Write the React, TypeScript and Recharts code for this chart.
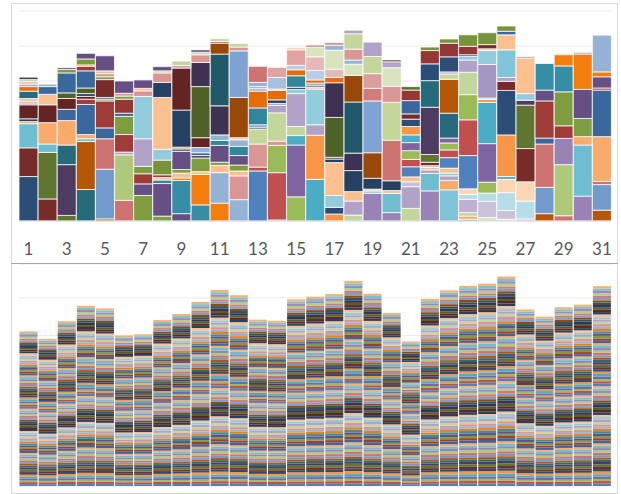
import React from 'react';
import { BarChart, Bar, XAxis, YAxis, CartesianGrid, Cell } from 'recharts';

// ---- categories ----
const days = Array.from({ length: 31 }, (_, i) => String(i + 1));
const axisTicks = [0, 10, 20, 30, 40, 50, 60];

// ---- top panel: segment values per day (bottom -> top) ----
const segmentValues: number[][] = [
  [12.7, 8.2, 6.9, 0.6, 0.8, 4.0, 0.5, 0.5, 0.8, 2.1, 1.3, 0.7, 0.7, 0.6, 0.7],
  [6.3, 13.3, 2.4, 6.1, 5.1, 3.0, 2.2, 0.7],
  [1.6, 14.5, 5.6, 7.0, 3.2, 3.1, 1.6, 5.7, 1.0, 0.5],
  [9.0, 13.7, 0.8, 1.2, 8.6, 1.5, 0.8, 0.8, 1.6, 4.9, 1.3, 0.4, 1.7, 1.6],
  [0.6, 14.2, 8.7, 3.1, 7.7, 0.5, 0.5, 5.1, 0.8, 0.9, 0.8, 4.3],
  [5.9, 13.0, 0.8, 5.0, 5.2, 0.9, 4.0, 0.9, 0.8, 3.5],
  [7.3, 3.3, 2.9, 2.1, 7.9, 12.1, 1.6, 0.7, 2.4],
  [1.4, 9.3, 1.0, 0.7, 0.8, 4.2, 3.1, 14.8, 4.3, 2.7, 0.6, 1.2],
  [2.1, 9.5, 0.7, 1.4, 1.0, 5.2, 0.7, 0.5, 10.6, 12.0, 0.7, 1.3],
  [4.6, 8.7, 0.8, 3.9, 0.7, 0.8, 1.5, 2.8, 14.6, 6.9, 2.2, 0.7, 0.7],
  [5.1, 8.7, 2.1, 0.9, 4.8, 1.4, 1.6, 8.3, 14.8, 3.1, 0.5, 0.8],
  [6.1, 6.8, 1.4, 1.7, 2.7, 2.6, 1.9, 0.6, 11.5, 13.3, 1.1, 1.0],
  [14.3, 1.1, 6.6, 4.3, 0.5, 0.7, 4.8, 4.8, 0.7, 0.6, 1.2, 4.6],
  [0.3, 13.5, 7.8, 1.2, 8.1, 2.1, 0.6, 1.0, 2.7, 0.4, 3.3, 2.9],
  [6.9, 14.8, 2.7, 2.6, 9.4, 1.2, 0.6, 3.3, 1.7, 1.3, 4.4, 0.7],
  [11.9, 12.6, 3.0, 10.2, 0.6, 0.5, 0.6, 0.9, 2.7, 3.9, 2.7, 0.7],
  [2.0, 1.9, 3.4, 9.4, 1.0, 0.5, 11.4, 9.9, 1.5, 2.4, 5.4, 1.4, 0.8],
  [1.7, 4.0, 2.7, 6.0, 5.0, 14.6, 7.6, 3.2, 1.2, 3.1, 4.4, 1.0],
  [7.9, 0.7, 0.5, 3.1, 7.3, 14.8, 3.6, 4.2, 4.9, 4.1],
  [2.4, 5.5, 0.8, 2.8, 11.6, 10.8, 4.6, 5.3, 1.7, 0.5],
  [3.6, 6.2, 1.4, 1.4, 2.9, 2.1, 2.5, 2.3, 2.2, 2.4, 2.1, 1.5, 3.8, 3.0, 1.0],
  [8.6, 5.0, 1.0, 0.7, 0.5, 1.0, 2.2, 13.5, 7.6, 4.8, 3.8, 1.0],
  [8.9, 2.7, 1.3, 0.8, 1.4, 3.0, 2.2, 2.0, 1.4, 7.1, 9.7, 1.5, 0.6, 4.3, 3.9, 1.2],
  [0.5, 0.9, 1.0, 3.8, 1.4, 1.6, 9.5, 10.2, 7.2, 6.4, 3.5, 1.0, 0.5, 2.4, 3.3],
  [1.0, 4.6, 2.4, 3.1, 11.0, 11.8, 0.8, 0.4, 9.6, 4.0, 0.5, 1.2, 3.4],
  [0.5, 2.5, 5.1, 3.8, 0.8, 11.9, 12.7, 2.6, 1.1, 7.9, 4.3, 1.0, 1.5],
  [0.6, 5.1, 5.5, 9.5, 12.4, 1.4, 1.9, 10.2, 0.3],
  [2.1, 7.5, 12.4, 1.7, 10.6, 3.1, 7.6],
  [1.5, 14.6, 7.5, 3.6, 9.7, 7.4, 3.2],
  [7.1, 14.6, 2.4, 5.2, 8.3, 10.1, 0.5],
  [3.1, 7.3, 0.9, 12.8, 13.3, 0.6, 3.2, 1.4, 10.5],
];

// ---- top panel: segment colours per day (bottom -> top) ----
const segmentColors: string[][] = [
  ['#2C4D75', '#772C2A', '#6FBDD1', '#F9AB6B', '#254061', '#632523', '#9983B5', '#D99694', '#FAC090', '#276A7C', '#E46C0A', '#95B3D7', '#E6B9B8', '#C3D69B', '#4D3B62'],
  ['#772C2A', '#5F7530', '#6FBDD1', '#F9AB6B', '#632523', '#FAC090', '#3A679C', '#95B3D7'],
  ['#5F7530', '#4D3B62', '#276A7C', '#F9AB6B', '#3A679C', '#632523', '#4F6228', '#3A679C', '#7E9D40', '#664F83'],
  ['#276A7C', '#B65708', '#6FBDD1', '#F9AB6B', '#3A679C', '#9F3B38', '#632523', '#254061', '#4F6228', '#3A679C', '#9F3B38', '#F47D0E', '#7E9D40', '#664F83'],
  ['#B65708', '#729ACA', '#CD7371', '#3A679C', '#9F3B38', '#7E9D40', '#3A679C', '#772C2A', '#7E9D40', '#D99694', '#FAC090', '#664F83'],
  ['#CD7371', '#AFC97A', '#B3A2C7', '#9F3B38', '#7E9D40', '#3A679C', '#953735', '#7E9D40', '#D99694', '#664F83'],
  ['#7E9D40', '#664F83', '#9F3B38', '#7E9D40', '#B3A2C7', '#93CDDD', '#D99694', '#FAC090', '#664F83'],
  ['#7E9D40', '#664F83', '#31859C', '#FAC090', '#9F3B38', '#76923C', '#93CDDD', '#FAC090', '#254061', '#D99694', '#C3D69B', '#664F83'],
  ['#664F83', '#358EA6', '#F47D0E', '#FAC090', '#7E9D40', '#664F83', '#3A679C', '#F47D0E', '#254061', '#632523', '#D99694', '#C3D69B'],
  ['#358EA6', '#F47D0E', '#FAC090', '#7E9D40', '#4D3B62', '#3A679C', '#95B3D7', '#632523', '#4F6228', '#3F3151', '#D99694', '#C3D69B', '#664F83'],
  ['#F47D0E', '#95B3D7', '#FAC090', '#7E9D40', '#664F83', '#31859C', '#95B3D7', '#3F3151', '#215968', '#984807', '#C0504D', '#C3D69B'],
  ['#95B3D7', '#D99694', '#FAC090', '#7E9D40', '#664F83', '#31859C', '#95B3D7', '#FAC090', '#984807', '#7FA2D1', '#D99694', '#C3D69B'],
  ['#4F81BD', '#C0504D', '#D99694', '#C3D69B', '#254061', '#729ACA', '#31859C', '#E46C0A', '#95B3D7', '#B3A2C7', '#95B3D7', '#CD7371'],
  ['#4F81BD', '#C0504D', '#9BBB59', '#D99694', '#C3D69B', '#B3A2C7', '#95B3D7', '#254061', '#E46C0A', '#FAC090', '#A9C0DE', '#E0A3A1'],
  ['#9BBB59', '#8064A2', '#4BACC6', '#C3D69B', '#B3A2C7', '#93CDDD', '#254061', '#31859C', '#E46C0A', '#B9CDE5', '#E0A3A1', '#FCD5B5'],
  ['#4BACC6', '#F79646', '#B3A2C7', '#93CDDD', '#FAC090', '#254061', '#729ACA', '#E46C0A', '#B9CDE5', '#E6B9B8', '#D7E4BD', '#D99694'],
  ['#F79646', '#2C4D75', '#93CDDD', '#FAC090', '#254061', '#632523', '#4F6228', '#3F3151', '#E46C0A', '#E6B9B8', '#D7E4BD', '#95B3D7', '#D99694'],
  ['#C3D69B', '#B3A2C7', '#FAC090', '#254061', '#3F3151', '#215968', '#984807', '#D7E4BD', '#95B3D7', '#D99694', '#C3D69B', '#B3A2C7'],
  ['#9983B5', '#93CDDD', '#FAC090', '#254061', '#984807', '#7FA3D2', '#D37B7B', '#DA9E9D', '#C3D69B', '#B3A2C7'],
  ['#9983B5', '#6FBDD1', '#FAC090', '#254061', '#CD7371', '#C3D69B', '#D99694', '#D7E4BD', '#B3A2C7', '#632523'],
  ['#C3D69B', '#B3A2C7', '#CCC1DA', '#FAC090', '#4F81BD', '#C0504D', '#9BBB59', '#8064A2', '#4BACC6', '#F79646', '#2C4D75', '#772C2A', '#3A679C', '#953735', '#5F7530'],
  ['#9983B5', '#6FBDD1', '#B3A2C7', '#FAC090', '#93CDDD', '#772C2A', '#5F7530', '#4D3B62', '#276A7C', '#2C4D75', '#953735', '#77933C'],
  ['#80C4D8', '#F9AB6B', '#B3A2C7', '#93CDDD', '#FAC090', '#4F81BD', '#C0504D', '#9BBB59', '#8064A2', '#276A7C', '#B65708', '#C3D69B', '#B3A2C7', '#2C4D75', '#953735', '#77933C'],
  ['#4BACC6', '#F9AB6B', '#C3D69B', '#C0B0D4', '#B7DEE8', '#FCD5B5', '#4F81BD', '#C0504D', '#9BBB59', '#C3D69B', '#B3A2C7', '#93CDDD', '#2C4D75', '#953735', '#77933C'],
  ['#D7E4BD', '#CCC1DA', '#B7DEE8', '#9BBB59', '#8064A2', '#4BACC6', '#F79646', '#C3D69B', '#A597C3', '#93CDDD', '#FAC090', '#772C2A', '#77933C'],
  ['#D7E4BD', '#CCC1DA', '#B7DEE8', '#FCD5B5', '#4BACC6', '#F79646', '#2C4D75', '#772C2A', '#B3A2C7', '#82C4DA', '#FAC090', '#3A679C', '#77933C'],
  ['#CCC1DA', '#B7DEE8', '#FCD5B5', '#772C2A', '#5F7530', '#4D3B62', '#93CDDD', '#FAC090', '#2C4D75'],
  ['#B65708', '#729ACA', '#CD7371', '#3A679C', '#9F3B38', '#664F83', '#358EA6'],
  ['#CD7371', '#AFC97A', '#9983B5', '#9F3B38', '#7E9D40', '#358EA6', '#F47D0E'],
  ['#9983B5', '#6FBDD1', '#F9AB6B', '#7E9D40', '#664F83', '#F47D0E', '#95B3D7'],
  ['#B65708', '#729ACA', '#CD7371', '#F9AB6B', '#3A679C', '#9F3B38', '#664F83', '#F47D0E', '#95B3D7'],
];

// ---- bottom panel: relative sizes of the thin stripes (bottom -> top) ----
const stripeWeights: number[] = [
  1.0, 1.1, 0.9, 1.0, 1.0, 1.2, 1.0, 0.9, 1.1, 1.0, 1.0, 0.9,
  1.0, 1.0, 1.1, 0.9, 1.0, 1.0, 1.2, 1.0, 0.9, 1.0, 1.1, 1.0,
  0.9, 1.0, 1.0, 1.1, 1.0, 0.9, 1.1, 1.0, 1.0, 1.2, 1.0, 0.9,
  1.0, 1.1, 1.0, 0.9, 1.0, 1.0, 1.1, 1.0, 0.9, 1.0, 1.2, 1.0,
  1.0, 0.9, 1.1, 1.0, 1.0, 1.0, 0.9, 1.1, 1.0, 1.0, 1.2, 0.9,
  1.0, 1.0, 1.1, 1.0, 0.9, 1.0, 1.0, 1.1, 1.0, 0.9, 1.0, 1.2,
  1.0, 1.0, 0.9, 1.1, 1.0, 1.0, 1.0, 0.9, 1.1, 1.0, 1.0, 1.0,
];

// Excel 2007 series colour cycle
const stripePalette: string[] = [
  '#4F81BD', '#C0504D', '#9BBB59', '#8064A2', '#4BACC6', '#F79646',
  '#2C4D75', '#772C2A', '#5F7530', '#4D3B62', '#276A7C', '#B65708',
  '#729ACA', '#CD7371', '#AFC97A', '#9983B5', '#6FBDD1', '#F9AB6B',
  '#3A679C', '#9F3B38', '#7E9D40', '#664F83', '#358EA6', '#F47D0E',
  '#95B3D7', '#D99694', '#C3D69B', '#B3A2C7', '#93CDDD', '#FAC090',
  '#254061', '#632523', '#4F6228', '#3F3151', '#215968', '#984807',
  '#7BA0CD', '#D07B79', '#B5CD85', '#A08AB9', '#78C0D4', '#F9B074',
];

// ---- tables built for the library ----
const maxSegments = Math.max(...segmentValues.map((s) => s.length));
const segKeys = Array.from({ length: maxSegments }, (_, k) => `s${k}`);
const topData = days.map((day, i) => {
  const row: Record<string, string | number> = { day };
  segKeys.forEach((key, k) => {
    row[key] = segmentValues[i][k] ?? 0;
  });
  return row;
});

const dayTotals = segmentValues.map((s) => s.reduce((a, b) => a + b, 0));
const weightSum = stripeWeights.reduce((a, b) => a + b, 0);
const stripeKeys = stripeWeights.map((_, k) => `b${k}`);
const bottomData = days.map((day, i) => {
  const row: Record<string, string | number> = { day };
  stripeWeights.forEach((w, k) => {
    row[stripeKeys[k]] = (dayTotals[i] * w) / weightSum;
  });
  return row;
});

const FONT = 'Lato, "Open Sans", sans-serif';

export default function App() {
  return (
    <div style={{ position: 'absolute', left: 0, top: 0, width: 621, height: 494, background: '#fff' }}>
      {/* frame */}
      <div
        style={{
          position: 'absolute',
          left: 11,
          top: 3,
          width: 607,
          height: 491,
          border: '1px solid #D9D9D9',
          boxSizing: 'border-box',
        }}
      />
      <div style={{ position: 'absolute', left: 11, top: 263, width: 607, height: 1, background: '#A6A6A6' }} />

      {/* top panel */}
      <div style={{ position: 'absolute', left: 0, top: 0 }}>
        <BarChart
          width={621}
          height={262}
          data={topData}
          margin={{ top: 11, right: 9.5, left: 19, bottom: 11 }}
          barCategoryGap={0}
        >
          <CartesianGrid vertical={false} stroke="#EBEBEB" />
          <YAxis hide domain={[0, 60]} ticks={axisTicks} />
          <XAxis
            dataKey="day"
            height={30}
            interval={1}
            tickLine={false}
            axisLine={{ stroke: '#D9D9D9' }}
            tickMargin={16}
            tick={{ fontSize: 17, fill: '#595959', fontFamily: FONT }}
          />
          {segKeys.map((key, k) => (
            <Bar key={key} dataKey={key} stackId="top" isAnimationActive={false} stroke="#FFFFFF" strokeWidth={0.75}>
              {topData.map((_, i) => (
                <Cell key={i} fill={segmentColors[i][k] ?? 'transparent'} />
              ))}
            </Bar>
          ))}
        </BarChart>
      </div>

      {/* bottom panel */}
      <div style={{ position: 'absolute', left: 0, top: 264 }}>
        <BarChart
          width={621}
          height={230}
          data={bottomData}
          margin={{ top: 0, right: 9.5, left: 19, bottom: 8 }}
          barCategoryGap={0.5}
        >
          <CartesianGrid vertical={false} stroke="#EBEBEB" />
          <YAxis hide domain={[0, 59.0]} ticks={[0, 10, 20, 30, 40, 50]} />
          <XAxis dataKey="day" hide />
          {stripeKeys.map((key, k) => (
            <Bar
              key={key}
              dataKey={key}
              stackId="bottom"
              isAnimationActive={false}
              fill={stripePalette[k % stripePalette.length]}
            />
          ))}
        </BarChart>
      </div>
    </div>
  );
}
